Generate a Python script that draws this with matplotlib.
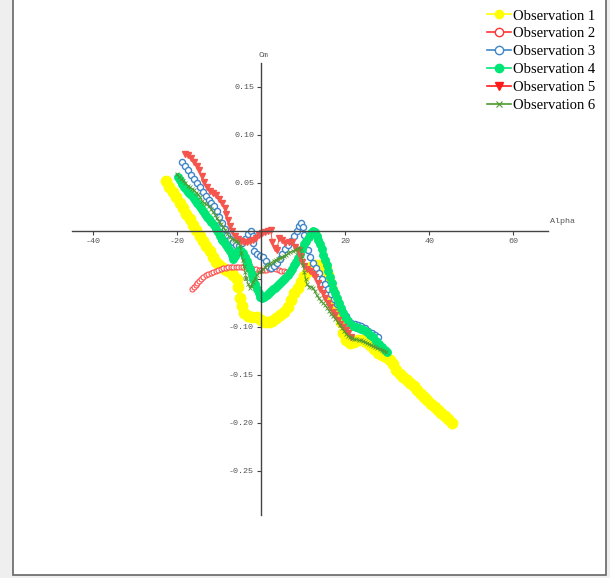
import matplotlib
matplotlib.use("Agg")
import matplotlib.pyplot as plt
from matplotlib.patches import Rectangle
from matplotlib.lines import Line2D

plt.rcParams["font.family"] = "Liberation Mono"

# angle of attack (deg) and pitching moment coefficient for each run
obs1_alpha = [-22.6, -21.8, -21.0, -20.2, -19.4, -18.6, -17.8, -17.0, -16.2, -15.4,
              -14.6, -13.8, -13.0, -12.2, -11.5, -10.7, -9.9, -9.1, -8.3, -7.5,
              -6.6, -5.8, -5.5, -5.0, -4.5, -4.0, -3.1, -2.1, -1.0, 0.0,
              0.9, 1.8, 2.7, 3.6, 4.5, 5.4, 6.3, 7.1, 7.9, 8.7,
              9.5, 10.3, 11.1, 11.9, 12.8, 13.7, 14.6, 15.4, 16.0, 16.4,
              16.8, 17.2, 17.8, 18.5, 19.0, 19.5, 20.3, 21.2, 22.1, 23.0,
              24.0, 25.0, 26.0, 27.0, 27.9, 28.8, 29.7, 30.6, 31.4, 32.2,
              33.0, 33.8, 34.7, 35.5, 36.3, 37.1, 38.0, 38.8, 39.6, 40.4,
              41.3, 42.1, 42.9, 43.8, 44.6, 45.5]
obs1_cm = [0.052, 0.046, 0.041, 0.035, 0.029, 0.024, 0.018, 0.012, 0.006, 0.001,
           -0.005, -0.010, -0.016, -0.021, -0.027, -0.032, -0.036, -0.039, -0.041, -0.043,
           -0.046, -0.050, -0.058, -0.070, -0.078, -0.086, -0.089, -0.090, -0.090, -0.093,
           -0.095, -0.095, -0.094, -0.091, -0.088, -0.084, -0.079, -0.072, -0.065, -0.059,
           -0.053, -0.047, -0.042, -0.038, -0.035, -0.035, -0.037, -0.040, -0.046, -0.054,
           -0.062, -0.070, -0.077, -0.083, -0.095, -0.106, -0.114, -0.117, -0.116, -0.114,
           -0.114, -0.116, -0.119, -0.123, -0.127, -0.129, -0.131, -0.134, -0.139, -0.145,
           -0.149, -0.152, -0.155, -0.158, -0.162, -0.166, -0.170, -0.173, -0.176, -0.180,
           -0.183, -0.187, -0.190, -0.193, -0.196, -0.200]

obs2_alpha = [-16.4, -16.0, -15.6, -15.2, -14.7, -14.2, -13.7, -13.2, -12.6, -12.0,
              -11.4, -10.8, -10.2, -9.6, -9.0, -8.4, -7.8, -7.2, -6.6, -6.0,
              -5.4, -4.8, -4.2, -3.6, -3.0, -2.4, -1.8, -1.2, -0.6, 0.0,
              0.6, 1.2, 1.8, 2.4, 3.0, 3.6, 4.2, 4.8, 5.4, 6.0,
              6.6, 7.2]
obs2_cm = [-0.061, -0.058, -0.056, -0.054, -0.052, -0.050, -0.048, -0.046, -0.045, -0.044,
           -0.043, -0.042, -0.041, -0.040, -0.039, -0.0385, -0.038, -0.038, -0.0378, -0.0375,
           -0.0375, -0.0375, -0.0378, -0.038, -0.0385, -0.039, -0.0395, -0.040, -0.0405, -0.041,
           -0.041, -0.041, -0.040, -0.040, -0.039, -0.040, -0.041, -0.042, -0.042, -0.043,
           -0.043, -0.043]

obs3_alpha = [-18.8, -18.1, -17.4, -16.7, -16.0, -15.3, -14.6, -13.9, -13.2, -12.5,
              -11.8, -11.1, -10.5, -9.9, -9.3, -8.7, -8.0, -7.3, -6.6, -5.9,
              -5.2, -4.5, -3.8, -3.1, -2.4, -1.9, -1.8, -1.6, -0.9, -0.2,
              0.5, 1.1, 1.6, 2.3, 3.0, 3.7, 4.4, 5.1, 5.8, 6.5,
              7.2, 7.9, 8.5, 9.0, 9.5, 9.9, 10.3, 10.7, 11.1, 11.7,
              12.4, 13.1, 13.8, 14.5, 15.2, 15.9, 16.6, 17.3, 18.0, 18.7,
              19.4, 20.1, 20.8, 21.5, 22.3, 23.1, 23.9, 24.7, 25.5, 26.3,
              27.1, 27.8]
obs3_cm = [0.072, 0.068, 0.063, 0.058, 0.054, 0.050, 0.046, 0.041, 0.036, 0.032,
           0.029, 0.026, 0.021, 0.015, 0.008, 0.002, -0.004, -0.008, -0.012, -0.015,
           -0.016, -0.013, -0.008, -0.003, 0.000, -0.005, -0.013, -0.021, -0.024, -0.026,
           -0.027, -0.031, -0.037, -0.039, -0.037, -0.033, -0.029, -0.024, -0.019, -0.015,
           -0.011, -0.005, 0.000, 0.005, 0.008, 0.004, -0.004, -0.012, -0.020, -0.027,
           -0.033, -0.039, -0.044, -0.050, -0.055, -0.061, -0.066, -0.071, -0.076, -0.080,
           -0.084, -0.089, -0.093, -0.096, -0.097, -0.098, -0.099, -0.101, -0.104, -0.106,
           -0.108, -0.111]

obs4_alpha = [-19.8, -19.3, -18.8, -18.3, -17.8, -17.3, -16.8, -16.3, -15.8, -15.3,
              -14.8, -14.3, -13.8, -13.3, -12.8, -12.3, -11.8, -11.3, -10.8, -10.3,
              -9.8, -9.3, -8.8, -8.3, -7.8, -7.3, -6.9, -6.6, -6.2, -5.7,
              -5.2, -4.7, -4.2, -3.8, -3.4, -3.0, -2.6, -2.2, -1.8, -1.4,
              -1.0, -0.6, -0.2, 0.3, 0.8, 1.3, 1.8, 2.3, 2.8, 3.3,
              3.8, 4.3, 4.8, 5.3, 5.8, 6.3, 6.8, 7.3, 7.8, 8.3,
              8.8, 9.3, 9.8, 10.3, 10.8, 11.3, 11.8, 12.3, 12.8, 13.2,
              13.6, 14.0, 14.4, 14.8, 15.2, 15.6, 16.0, 16.4, 16.8, 17.2,
              17.6, 18.0, 18.5, 19.0, 19.5, 20.0, 20.6, 21.2, 21.8, 22.5,
              23.2, 23.9, 24.6, 25.3, 26.0, 26.7, 27.4, 28.1, 28.8, 29.5,
              30.0]
obs4_cm = [0.056, 0.053, 0.049, 0.046, 0.044, 0.041, 0.038, 0.035, 0.032, 0.029,
           0.027, 0.024, 0.021, 0.018, 0.015, 0.012, 0.009, 0.006, 0.002, -0.001,
           -0.005, -0.009, -0.012, -0.015, -0.018, -0.021, -0.025, -0.029, -0.026, -0.022,
           -0.020, -0.021, -0.023, -0.027, -0.031, -0.035, -0.040, -0.045, -0.050, -0.055,
           -0.060, -0.065, -0.069, -0.070, -0.069, -0.067, -0.065, -0.063, -0.061, -0.059,
           -0.057, -0.055, -0.053, -0.051, -0.049, -0.046, -0.043, -0.040, -0.036, -0.032,
           -0.028, -0.024, -0.019, -0.014, -0.010, -0.006, -0.002, 0.000, -0.001, -0.005,
           -0.009, -0.014, -0.019, -0.025, -0.030, -0.036, -0.042, -0.048, -0.054, -0.060,
           -0.065, -0.070, -0.075, -0.080, -0.085, -0.090, -0.094, -0.097, -0.099, -0.100,
           -0.101, -0.102, -0.103, -0.105, -0.108, -0.111, -0.115, -0.118, -0.121, -0.124,
           -0.126]

obs5_alpha = [-18.1, -17.4, -16.7, -16.0, -15.3, -14.7, -14.1, -13.5, -12.8, -12.1,
              -11.4, -10.7, -10.0, -9.3, -8.7, -8.3, -7.9, -7.4, -6.8, -6.1,
              -5.4, -4.7, -4.0, -3.3, -2.6, -1.9, -1.2, -0.5, 0.2, 0.9,
              1.6, 2.3, 2.7, 3.3, 3.8, 4.3, 5.0, 5.8, 6.6, 7.4,
              8.1, 8.7, 9.3, 9.8, 10.3, 10.9, 11.6, 12.3, 12.9, 13.5,
              14.1, 14.7, 15.3, 15.9, 16.5, 17.1, 17.7, 18.3, 18.9, 19.5,
              20.1, 20.7, 21.4]
obs5_cm = [0.080, 0.079, 0.076, 0.072, 0.068, 0.063, 0.057, 0.051, 0.046, 0.042,
           0.040, 0.037, 0.033, 0.029, 0.024, 0.018, 0.011, 0.005, 0.000, -0.005,
           -0.008, -0.010, -0.012, -0.012, -0.010, -0.009, -0.007, -0.004, -0.002, -0.001,
           0.000, 0.001, -0.012, -0.018, -0.020, -0.007, -0.009, -0.013, -0.012, -0.012,
           -0.017, -0.020, -0.026, -0.032, -0.037, -0.040, -0.042, -0.045, -0.048, -0.054,
           -0.060, -0.065, -0.070, -0.075, -0.079, -0.084, -0.088, -0.093, -0.097, -0.100,
           -0.103, -0.106, -0.110]

obs6_alpha = [-20.0, -19.5, -19.0, -18.5, -18.0, -17.5, -17.0, -16.5, -16.0, -15.5,
              -15.0, -14.5, -14.0, -13.5, -13.0, -12.5, -12.0, -11.5, -11.0, -10.5,
              -10.0, -9.5, -9.0, -8.5, -8.0, -7.5, -7.0, -6.5, -6.0, -5.5,
              -5.0, -4.7, -4.4, -4.1, -3.8, -3.5, -3.1, -2.7, -2.3, -1.9,
              -1.5, -1.0, -0.5, 0.0, 0.5, 1.0, 1.5, 2.0, 2.5, 3.0,
              3.5, 4.0, 4.5, 5.0, 5.5, 6.0, 6.5, 7.0, 7.5, 8.0,
              8.5, 9.0, 9.4, 9.7, 10.0, 10.3, 10.6, 10.9, 11.3, 11.8,
              12.3, 12.8, 13.2, 13.7, 14.2, 14.7, 15.2, 15.7, 16.2, 16.7,
              17.2, 17.7, 18.2, 18.7, 19.2, 19.7, 20.2, 20.7, 21.2, 21.7,
              22.2, 22.7, 23.2, 23.7, 24.2, 24.7, 25.2, 25.7, 26.2, 26.7,
              27.2, 27.7, 28.2, 28.7, 29.2, 29.8]
obs6_cm = [0.059, 0.056, 0.054, 0.052, 0.050, 0.047, 0.046, 0.044, 0.043, 0.040,
           0.038, 0.035, 0.031, 0.029, 0.028, 0.026, 0.023, 0.020, 0.017, 0.013,
           0.010, 0.007, 0.004, 0.001, -0.003, -0.006, -0.008, -0.009, -0.010, -0.012,
           -0.016, -0.023, -0.030, -0.037, -0.043, -0.049, -0.055, -0.059, -0.057, -0.053,
           -0.050, -0.046, -0.043, -0.042, -0.040, -0.038, -0.036, -0.034, -0.033, -0.031,
           -0.030, -0.029, -0.028, -0.027, -0.026, -0.025, -0.023, -0.022, -0.021, -0.020,
           -0.019, -0.018, -0.019, -0.026, -0.035, -0.043, -0.050, -0.055, -0.058, -0.058,
           -0.059, -0.063, -0.067, -0.070, -0.073, -0.075, -0.077, -0.080, -0.083, -0.087,
           -0.089, -0.092, -0.095, -0.098, -0.101, -0.104, -0.107, -0.109, -0.111, -0.112,
           -0.113, -0.113, -0.114, -0.114, -0.115, -0.116, -0.117, -0.118, -0.119, -0.120,
           -0.121, -0.122, -0.123, -0.124, -0.125, -0.126]

x_ticks = [-40, -20, 20, 40, 60]
y_ticks = [-0.25, -0.20, -0.15, -0.10, -0.05, 0.05, 0.10, 0.15]

fig = plt.figure(figsize=(6.10, 5.78), dpi=100)
fig.patch.set_facecolor("#efefef")

# white panel with a grey border behind everything
panel = Rectangle((13 / 610, 3 / 578), 593 / 610, 1.0, transform=fig.transFigure,
                  facecolor="white", edgecolor="#666666", linewidth=1.2, zorder=-1)
fig.patches.append(panel)

ax = fig.add_axes([72 / 610, 63 / 578, 476 / 610, 452 / 578])
ax.set_facecolor("none")
ax.set_xlim(-45, 68.3)
ax.set_ylim(-0.296, 0.175)

for name in ["top", "right"]:
    ax.spines[name].set_visible(False)
for name in ["left", "bottom"]:
    ax.spines[name].set_position(("data", 0))
    ax.spines[name].set_color("#444444")
    ax.spines[name].set_linewidth(1.0)

ax.set_xticks(x_ticks)
ax.set_xticklabels([str(t) for t in x_ticks])
ax.set_yticks(y_ticks)
ax.set_yticklabels(["%.2f" % t for t in y_ticks])
ax.tick_params(direction="out", length=3, width=0.8, color="#444444",
               labelsize=6, labelcolor="#555555", pad=2)

ax.text(0.7, 0.179, "Cm", fontsize=6, color="#555555", ha="center", va="bottom",
        clip_on=False)
ax.text(68.8, 0.006, "Alpha", fontsize=6, color="#555555", ha="left", va="bottom",
        clip_on=False)

ax.plot(obs1_alpha, obs1_cm, color="#ffff00", lw=0.8, marker="o", ms=7.5,
        mfc="#ffff00", mec="#ffff00", label="Observation 1")
ax.plot(obs2_alpha, obs2_cm, color="#ff4d4d", lw=0.7, marker="o", ms=3.6,
        mfc="white", mec="#ff4d4d", mew=0.8, label="Observation 2")
ax.plot(obs3_alpha, obs3_cm, color="#3f86c8", lw=0.7, marker="o", ms=4.4,
        mfc="white", mec="#3f86c8", mew=1.0, label="Observation 3")
ax.plot(obs4_alpha, obs4_cm, color="#00e676", lw=0.8, marker="o", ms=5.4,
        mfc="#00e676", mec="#00e676", label="Observation 4")
ax.plot(obs5_alpha, obs5_cm, color="#f4564e", lw=0.7, marker="v", ms=4.8,
        mfc="#f4564e", mec="#f4564e", label="Observation 5")
ax.plot(obs6_alpha, obs6_cm, color="#4f9a2f", lw=0.7, marker="x", ms=2.6,
        mew=0.6, label="Observation 6")

handles = [
    Line2D([], [], color="#ffff00", lw=1.2, marker="o", ms=6, mfc="#ffff00", mec="#ffff00"),
    Line2D([], [], color="#ff3333", lw=1.2, marker="o", ms=6, mfc="white", mec="#ff3333"),
    Line2D([], [], color="#3f86c8", lw=1.2, marker="o", ms=6, mfc="white", mec="#3f86c8"),
    Line2D([], [], color="#00e676", lw=1.2, marker="o", ms=6, mfc="#00e676", mec="#00e676"),
    Line2D([], [], color="#ff1a1a", lw=1.2, marker="v", ms=5.5, mfc="#ff1a1a", mec="#ff1a1a"),
    Line2D([], [], color="#4f9a2f", lw=1.2, marker="x", ms=4, mew=0.8),
]
labels = ["Observation %d" % i for i in range(1, 7)]
fig.legend(handles, labels, loc="upper right", bbox_to_anchor=(0.985, 0.994),
           frameon=False, prop={"family": "Liberation Serif", "size": 10.5},
           handlelength=1.6, handletextpad=0.15, labelspacing=0.32, borderaxespad=0)

fig.savefig("out.png", dpi=100)
